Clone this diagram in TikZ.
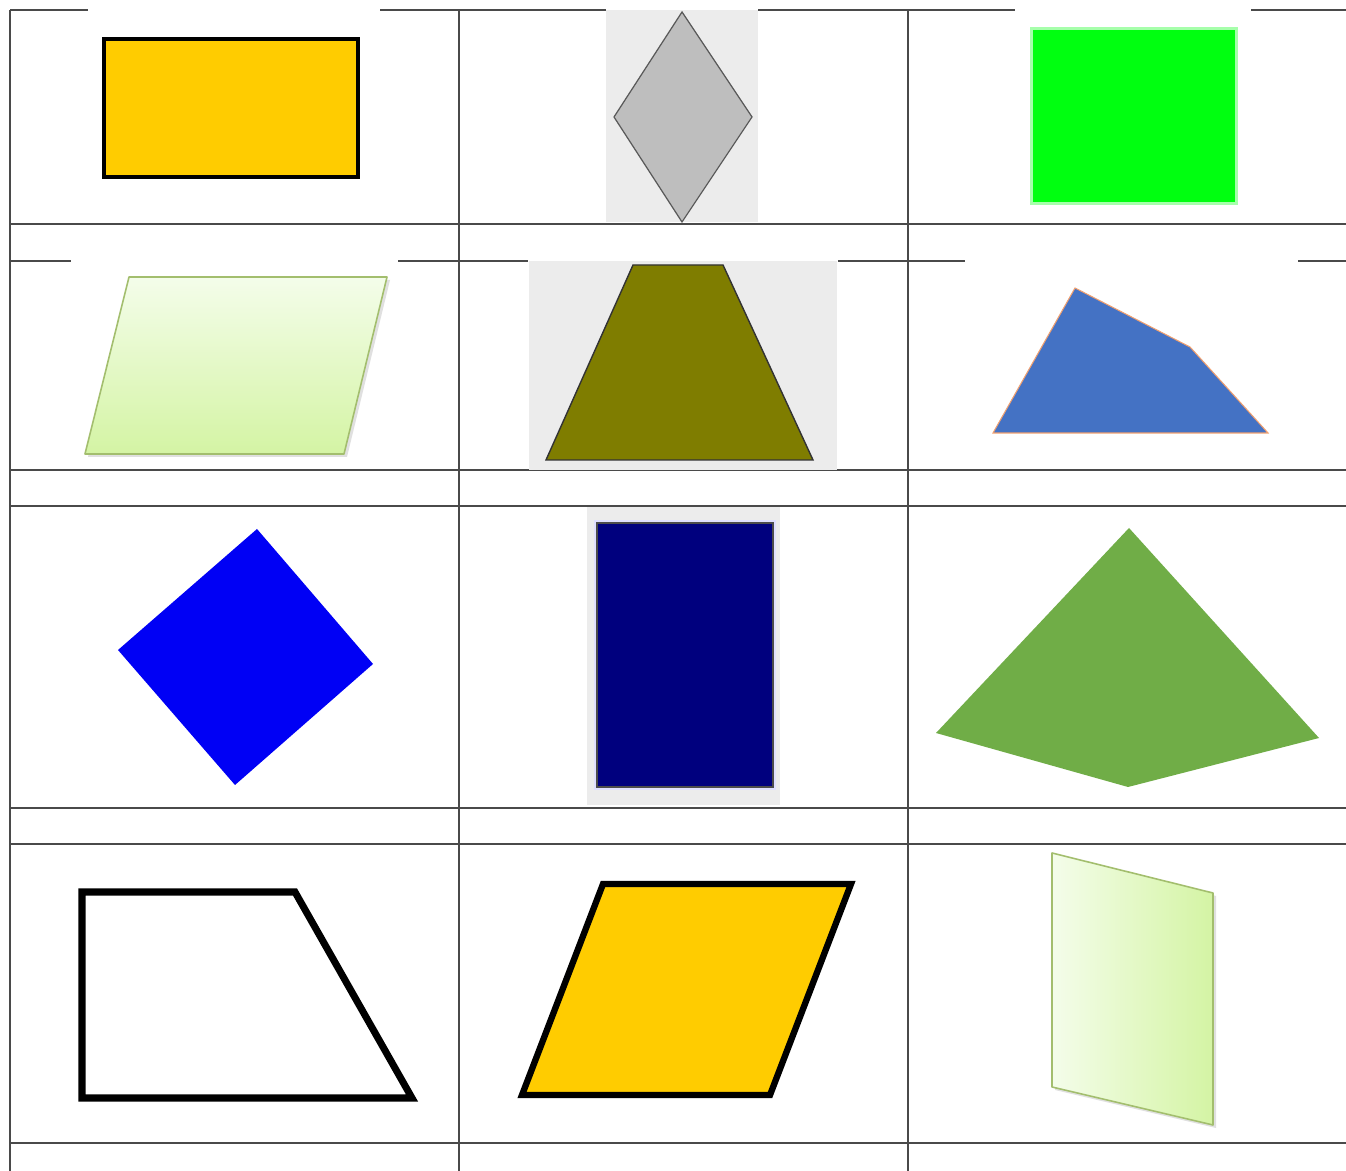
\documentclass[tikz,border=0pt]{standalone}
\usetikzlibrary{calc}
\definecolor{gridc}{HTML}{4A4A4A}
\definecolor{goldc}{HTML}{FFCC00}
\definecolor{dgray}{HTML}{BEBEBE}
\definecolor{texbg}{HTML}{ECECEC}
\definecolor{limec}{HTML}{00FF10}
\definecolor{lgtop}{HTML}{F4FDEA}
\definecolor{lgbot}{HTML}{D4F4A4}
\definecolor{lgedge}{HTML}{A3BE6E}
\definecolor{olivec}{HTML}{7F7D00}
\definecolor{steelc}{HTML}{4472C4}
\definecolor{peach}{HTML}{F0A070}
\definecolor{pureblue}{HTML}{0000F5}
\definecolor{navyc}{HTML}{00007E}
\definecolor{leafc}{HTML}{70AD47}
\tikzset{
  gridline/.style={draw=gridc, line width=0.45pt},
  thickout/.style={draw=black, line width=1.15pt, line join=miter},
  heavyout/.style={draw=black, line width=2pt, line join=miter},
  texture/.style={fill=texbg, draw=none},
  shadowc/.style={fill=black!12, draw=none}
}
\begin{document}
\begin{tikzpicture}[x=0.01cm,y=-0.01cm]
\useasboundingbox (0,0) rectangle (1346,1171);
\fill[white] (0,0) rectangle (1346,1171);

% ---------- grid ----------
\foreach \a/\b in {10/88,380/606,758/1015,1251/1346}
  \draw[gridline] (\a,10) -- (\b,10);
\foreach \a/\b in {10/71,398/528,838/965,1298/1346}
  \draw[gridline] (\a,261) -- (\b,261);
\foreach \yy in {224,470,506,808,844,1143}
  \draw[gridline] (10,\yy) -- (1346,\yy);
\foreach \xx in {10,459,908}
  \draw[gridline] (\xx,10) -- (\xx,1171);

% ---------- row 1 ----------
% gold rectangle
\filldraw[fill=goldc, thickout] (104,39) rectangle (358,177);
% grey diamond on textured background
\fill[texture] (606,10) rectangle (758,222);
\filldraw[fill=dgray, draw=black!65, line width=0.35pt]
  (682,12) -- (752,117) -- (682,222) -- (614,117) -- cycle;
% green rectangle
\fill[limec!35] (1030,27) rectangle (1238,205);
\fill[limec] (1033,30) rectangle (1235,202);

% ---------- row 2 ----------
% light green parallelogram
\fill[shadowc] (131,280) -- (390,280) -- (347,457) -- (88,457) -- cycle;
\shade[top color=lgtop, bottom color=lgbot]
  (129,277) -- (387,277) -- (344,454) -- (85,454) -- cycle;
\draw[draw=lgedge, line width=0.45pt, line join=round]
  (129,277) -- (387,277) -- (344,454) -- (85,454) -- cycle;
% olive trapezoid on textured background
\fill[texture] (529,261) rectangle (837,470);
\filldraw[fill=olivec, draw=black!80, line width=0.4pt]
  (633,265) -- (723,265) -- (813,460) -- (546,460) -- cycle;
% blue quadrilateral
\filldraw[fill=steelc, draw=peach, line width=0.3pt, line join=miter]
  (1075,288) -- (1190,347) -- (1268,433) -- (993,433) -- cycle;

% ---------- row 3 ----------
% rotated blue square
\fill[pureblue] (257,529) -- (373,664) -- (235,785) -- (118,650) -- cycle;
% navy rectangle on textured background
\fill[texture] (587,507) rectangle (780,805);
\fill[blue!12] (594,520) rectangle (776,790);
\filldraw[fill=navyc, draw=black!70, line width=0.3pt] (597,523) rectangle (773,787);
% green kite
\fill[leafc] (1129,528) -- (1319,738) -- (1128,787) -- (936,733) -- cycle;

% ---------- row 4 ----------
% white right trapezoid, thick outline
\draw[heavyout] (82,892) -- (295,892) -- (412,1098) -- (82,1098) -- cycle;
% gold parallelogram, thick outline
\filldraw[fill=goldc, heavyout, line width=1.8pt]
  (603,884) -- (851,884) -- (770,1095) -- (522,1095) -- cycle;
% light green vertical parallelogram
\fill[shadowc] (1055,856) -- (1216,896) -- (1216,1128) -- (1055,1090) -- cycle;
\shade[left color=lgtop, right color=lgbot]
  (1052,853) -- (1213,893) -- (1213,1125) -- (1052,1087) -- cycle;
\draw[draw=lgedge, line width=0.45pt, line join=round]
  (1052,853) -- (1213,893) -- (1213,1125) -- (1052,1087) -- cycle;
\end{tikzpicture}
\end{document}
